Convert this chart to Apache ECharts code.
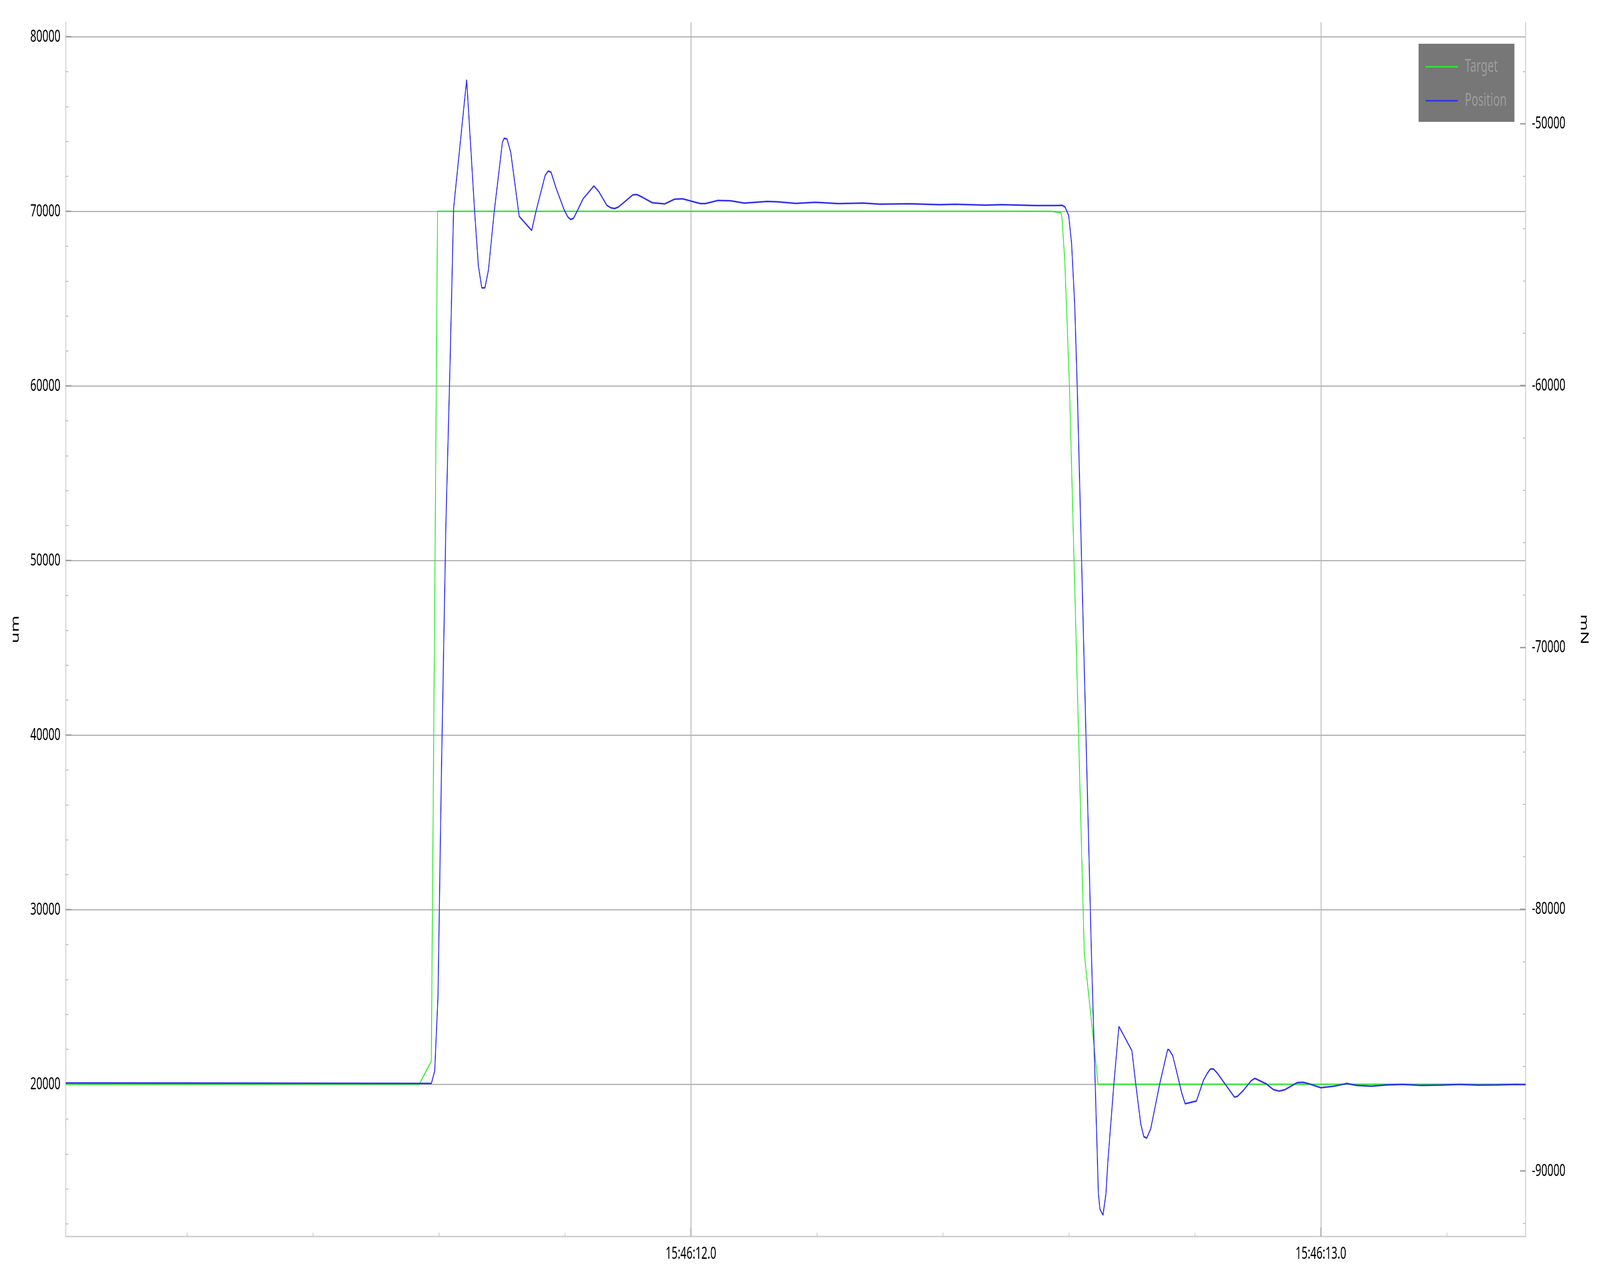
<!DOCTYPE html>
<html>
<head>
<meta charset="utf-8">
<script src="https://cdn.jsdelivr.net/npm/echarts@6/dist/echarts.min.js"></script>
<style>
html,body{margin:0;padding:0;background:#ffffff;overflow:hidden;width:100%;height:100%;}
#chart{width:6667px;height:3267px;transform-origin:0 0;}
</style>
</head>
<body>
<div id="chart"></div>
<script>
// ---- data (time in seconds after 15:46:00) ----
const seriesNames = ['Target', 'Position'];
const timePrefix = '15:46:';

const targetTime  = [11.0076, 11.5688, 11.5879, 11.5978, 12.5720, 12.5874, 12.5890, 12.5935, 12.6011, 12.6244, 12.6463, 13.3250];
const targetValue = [20000,   20000,   21320,   70000,   70000,   69930,   69642,   67160,   59732,   27517,   20000,   20000];

const positionTime = [
  11.0076, 11.3000, 11.5880, 11.5933, 11.5985, 11.6040, 11.6110, 11.6178, 11.6233, 11.6440,
  11.6565, 11.6626, 11.6680, 11.6730, 11.6786, 11.6880, 11.7007, 11.7034, 11.7080, 11.7140,
  11.7274, 11.7472, 11.7545, 11.7686, 11.7735, 11.7780, 11.7860, 11.7985, 11.8044, 11.8090,
  11.8136, 11.8193, 11.8288, 11.8460, 11.8540, 11.8666, 11.8730, 11.8788, 11.8850, 11.9077,
  11.9140, 11.9230, 11.9386, 11.9584, 11.9740, 11.9867, 12.0150, 12.0230, 12.0427, 12.0627,
  12.0846, 12.1211, 12.1376, 12.1666, 12.1977, 12.2341, 12.2743, 12.2999, 12.3473, 12.3946,
  12.4201, 12.4678, 12.4933, 12.5478, 12.5799, 12.5894, 12.5940, 12.5997, 12.6043, 12.6093,
  12.6134, 12.6359, 12.6468, 12.6493, 12.6541, 12.6588, 12.6618, 12.6714, 12.6794, 12.7000,
  12.7061, 12.7141, 12.7189, 12.7236, 12.7299, 12.7442, 12.7568, 12.7594, 12.7648, 12.7693,
  12.7789, 12.7846, 12.8025, 12.8136, 12.8193, 12.8246, 12.8296, 12.8353, 12.8628, 12.8673,
  12.8769, 12.8894, 12.8952, 12.9133, 12.9244, 12.9337, 12.9432, 12.9623, 12.9718, 12.9813,
  13.0000, 13.0206, 13.0271, 13.0412, 13.0564, 13.0800, 13.1050, 13.1300, 13.1600, 13.1900,
  13.2200, 13.2500, 13.2800, 13.3100, 13.3250
];
const positionValue = [
  20070, 20060, 20045, 20767, 25056, 38000, 52000, 61521, 70179, 77540,
  70067, 66868, 65615, 65615, 66644, 70067, 73937, 74183, 74139, 73378,
  69709, 68904, 70067, 72058, 72304, 72237, 71320, 70112, 69687, 69530,
  69597, 70000, 70716, 71454, 71118, 70336, 70201, 70157, 70246, 70940,
  70962, 70805, 70492, 70425, 70694, 70716, 70440, 70440, 70620, 70604,
  70470, 70566, 70544, 70455, 70515, 70440, 70470, 70410, 70433, 70380,
  70403, 70350, 70380, 70328, 70330, 70340, 70246, 69754, 68143, 64586,
  59732, 27293, 13758, 12841, 12506, 13714, 15526, 20022, 23310, 21924,
  20022, 17718, 17002, 16913, 17450, 20022, 21991, 21960, 21633, 20984,
  19530, 18881, 19038, 20224, 20604, 20872, 20872, 20649, 19261, 19300,
  19642, 20201, 20336, 20022, 19696, 19605, 19694, 20090, 20112, 20022,
  19799, 19888, 19930, 20045, 19933, 19890, 19960, 19990, 19930, 19950,
  19990, 19950, 19960, 19990, 19980
];

// ---- axes: ranges and tick values ----
const timeMin = 11.0076, timeMax = 13.3250;
const leftMin = 11275, leftMax = 80828;
const rightMin = -92506, rightMax = -46122;
const timeMajorTicks = [12, 13];
const timeMinorTicks = [11.2, 11.4, 11.6, 11.8, 12.2, 12.4, 12.6, 12.8, 13.2];
const leftMajorTicks = [20000, 30000, 40000, 50000, 60000, 70000, 80000];
const leftMinorTicks = [12000, 14000, 16000, 18000, 22000, 24000, 26000, 28000, 32000, 34000, 36000, 38000,
  42000, 44000, 46000, 48000, 52000, 54000, 56000, 58000, 62000, 64000, 66000, 68000, 72000, 74000, 76000, 78000];
const rightMajorTicks = [-90000, -80000, -70000, -60000, -50000];
const rightMinorTicks = [-92000, -88000, -86000, -84000, -82000, -78000, -76000, -74000, -72000,
  -68000, -66000, -64000, -62000, -58000, -56000, -54000, -52000, -48000];
const leftName = 'um', rightName = 'mN';

// ---- the chart is laid out at 6667 x 3267 and fitted to the actual window ----
const box = document.getElementById('chart');
box.style.transform = 'scale(' + (window.innerWidth / 6667) + ',' + (window.innerHeight / 3267) + ')';

const FONT = '"Noto Sans", "Open Sans", sans-serif';
const zip = (a, b) => a.map((t, i) => [t, b[i]]);
const axisLineStyle = { color: '#cdcdcd', width: 3.5 };
const majorTickStyle = { color: '#9c9c9c', width: 3.5 };
const minorTickStyle = { color: '#c6c6c6', width: 3 };
const gridLineStyle = { color: '#b2b2b2', width: 3 };
const plain = v => String(v);

function minorAxis(base, ticks, length) {
  return Object.assign({}, base, {
    name: '',
    axisLine: { show: false, onZero: false },
    axisTick: { show: true, inside: true, length: length, customValues: ticks, lineStyle: minorTickStyle },
    axisLabel: { show: false },
    splitLine: { show: false }
  });
}

const xBase = { type: 'value', min: timeMin, max: timeMax, position: 'bottom', gridIndex: 0 };
const yLeftBase = { type: 'value', min: leftMin, max: leftMax, position: 'left', gridIndex: 0 };
const yRightBase = { type: 'value', min: rightMin, max: rightMax, position: 'right', gridIndex: 0 };

const chart = echarts.init(box, null, { renderer: 'canvas', width: 6667, height: 3267 });
chart.setOption({
  animation: false,
  backgroundColor: '#ffffff',
  grid: { left: 274, right: 310, top: 57, bottom: 101, containLabel: false, outerBoundsMode: 'none' },
  legend: {
    left: 5911, top: 112,
    orient: 'vertical',
    selectedMode: false,
    backgroundColor: '#777777',
    padding: [31, 32, 26, 29],
    itemWidth: 135, itemHeight: 4, itemGap: 31,
    data: [{ name: seriesNames[0], icon: 'rect' }, { name: seriesNames[1], icon: 'rect' }],
    textStyle: { color: '#9e9e9e', fontSize: 46, lineHeight: 56, fontFamily: FONT, padding: [0, 0, 0, 24] }
  },
  xAxis: [
    Object.assign({}, xBase, {
      axisLine: { show: true, onZero: false, lineStyle: axisLineStyle },
      axisTick: { show: true, inside: true, length: 23, customValues: timeMajorTicks, lineStyle: majorTickStyle },
      axisLabel: {
        show: true, customValues: timeMajorTicks, fontSize: 44, color: '#000000', margin: 22, fontFamily: FONT,
        formatter: v => timePrefix + (v < 10 ? '0' : '') + v.toFixed(1)
      },
      splitLine: { show: true, showMinLine: true, showMaxLine: true, lineStyle: gridLineStyle }
    }),
    minorAxis(xBase, timeMinorTicks, 10)
  ],
  yAxis: [
    Object.assign({}, yLeftBase, {
      name: leftName, nameLocation: 'middle', nameGap: 186, nameRotate: 90,
      nameTextStyle: { fontSize: 46, color: '#000000', fontFamily: FONT },
      axisLine: { show: true, onZero: false, lineStyle: axisLineStyle },
      axisTick: { show: true, inside: true, length: 23, customValues: leftMajorTicks, lineStyle: majorTickStyle },
      axisLabel: { show: true, customValues: leftMajorTicks, fontSize: 44, color: '#000000', margin: 22, fontFamily: FONT, formatter: plain },
      splitLine: { show: true, showMinLine: true, showMaxLine: true, lineStyle: gridLineStyle }
    }),
    minorAxis(yLeftBase, leftMinorTicks, 11),
    Object.assign({}, yRightBase, {
      name: rightName, nameLocation: 'middle', nameGap: 220, nameRotate: -90,
      nameTextStyle: { fontSize: 46, color: '#000000', fontFamily: FONT },
      axisLine: { show: true, onZero: false, lineStyle: axisLineStyle },
      axisTick: { show: true, inside: true, length: 23, customValues: rightMajorTicks, lineStyle: majorTickStyle },
      axisLabel: { show: true, customValues: rightMajorTicks, fontSize: 44, color: '#000000', margin: 26, fontFamily: FONT, formatter: plain },
      splitLine: { show: false }
    }),
    minorAxis(yRightBase, rightMinorTicks, 11)
  ],
  series: [
    {
      name: seriesNames[0], type: 'line', xAxisIndex: 0, yAxisIndex: 0,
      data: zip(targetTime, targetValue),
      showSymbol: false, symbol: 'none',
      color: '#2ee82e',
      lineStyle: { color: '#2ee82e', width: 3.5 },
      z: 2
    },
    {
      name: seriesNames[1], type: 'line', xAxisIndex: 0, yAxisIndex: 0,
      data: zip(positionTime, positionValue),
      showSymbol: false, symbol: 'none',
      color: '#3434ee',
      lineStyle: { color: '#3434ee', width: 4 },
      z: 3
    }
  ]
});
</script>
</body>
</html>
